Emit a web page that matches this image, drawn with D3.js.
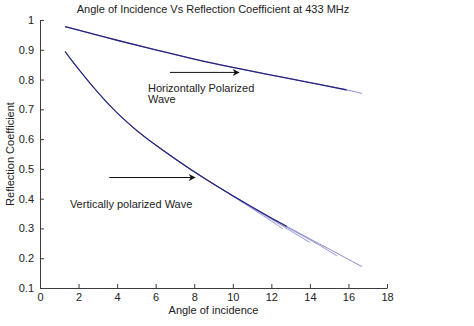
<!DOCTYPE html>
<html>
<head>
<meta charset="utf-8">
<script src="https://cdn.jsdelivr.net/npm/d3@7"></script>
<style>
  html, body { margin: 0; padding: 0; background: #fff; }
  svg { display: block; font-family: "Liberation Sans", Arial, sans-serif; }
</style>
</head>
<body>
<svg id="chart" width="474" height="326"></svg>
<script>
// ---- data ----
const hAngles   = [1.3, 2, 4, 6, 8, 10, 12, 14, 16, 16.7];
const hCoef     = [0.978, 0.966, 0.932, 0.900, 0.869, 0.841, 0.815, 0.790, 0.764, 0.753];
const hDarkEnd  = 15.9;

const vAngles   = [1.3, 2, 3, 4, 5, 6, 7, 8, 9, 10, 11, 12, 13, 14, 15, 16, 16.7];
const vCoef     = [0.894, 0.835, 0.757, 0.688, 0.630, 0.580, 0.534, 0.490, 0.449, 0.410, 0.372, 0.335, 0.300, 0.265, 0.231, 0.196, 0.172];
const vDarkEnd  = 12.8;

// extra runs that split off the vertically polarized curve
const vBranchA_x = [6, 8, 10, 12, 14, 15.4];
const vBranchA_y = [0.580, 0.490, 0.410, 0.333, 0.262, 0.208];
const vBranchB_x = [6, 8, 10, 12, 14];
const vBranchB_y = [0.580, 0.491, 0.409, 0.331, 0.253];
const vBranchC_x = [6, 8, 10, 12, 12.6];
const vBranchC_y = [0.580, 0.491, 0.408, 0.325, 0.298];

const xTicks = d3.range(0, 19, 2);
const yTicks = [0.1, 0.2, 0.3, 0.4, 0.5, 0.6, 0.7, 0.8, 0.9, 1];

const notes = [
  { lines: ["Horizontally Polarized", "Wave"], x: 5.6, y: 0.758, from: [6.74, 0.824], to: [10.32, 0.824] },
  { lines: ["Vertically polarized Wave"], x: 1.55, y: 0.368, from: [3.59, 0.471], to: [8.04, 0.471] }
];

// ---- layout ----
const svg = d3.select("#chart");
const margin = { top: 20, right: 87, bottom: 38, left: 40 };
const W = +svg.attr("width"), H = +svg.attr("height");
const width = W - margin.left - margin.right;
const height = H - margin.top - margin.bottom;
const g = svg.append("g").attr("transform", `translate(${margin.left},${margin.top})`);

const x = d3.scaleLinear().domain([0, 18]).range([0, width]);
const y = d3.scaleLinear().domain([0.1, 1]).range([height, 0]);

// axes, ticks pointing inwards like matlab
const axisColor = "#3c3c3c";
const xAxis = g.append("g")
  .attr("transform", `translate(0,${height})`)
  .call(d3.axisBottom(x).tickValues(xTicks).tickSizeInner(-4).tickSizeOuter(0).tickPadding(6).tickFormat(d3.format("d")));
const yAxis = g.append("g")
  .call(d3.axisLeft(y).tickValues(yTicks).tickSizeInner(-4).tickSizeOuter(0).tickPadding(6).tickFormat(d => d === 1 ? "1" : d3.format(".1f")(d)));
[xAxis, yAxis].forEach(a => {
  a.select(".domain").attr("stroke", axisColor);
  a.selectAll(".tick line").attr("stroke", axisColor);
  a.selectAll(".tick text").attr("fill", "#222").attr("font-size", "11px");
});
xAxis.selectAll(".tick text").attr("dy", "0.62em");

// ---- curves ----
const defs = svg.append("defs");
const clipTo = (id, xmax) => defs.append("clipPath").attr("id", id)
  .append("rect").attr("x", -5).attr("y", -5).attr("width", x(xmax) + 5).attr("height", height + 10);
clipTo("hdark", hDarkEnd);
clipTo("vdark", vDarkEnd);

const line = d3.line().x(d => x(d[0])).y(d => y(d[1])).curve(d3.curveNatural);
const pts = (xs, ys) => xs.map((v, i) => [v, ys[i]]);

const light = "#8a8ad2", dark = "#25257f";

const series = [
  { d: pts(hAngles, hCoef), c: light, w: 1 },
  { d: pts(vAngles, vCoef), c: light, w: 1 },
  { d: pts(vBranchA_x, vBranchA_y), c: light, w: 0.9 },
  { d: pts(vBranchB_x, vBranchB_y), c: light, w: 0.9 },
  { d: pts(vBranchC_x, vBranchC_y), c: light, w: 0.9 },
  { d: pts(hAngles, hCoef), c: dark, w: 1.3, clip: "hdark" },
  { d: pts(vAngles, vCoef), c: dark, w: 1.2, clip: "vdark" }
];

g.append("g").selectAll("path")
  .data(series)
  .join("path")
  .attr("fill", "none")
  .attr("stroke", d => d.c)
  .attr("stroke-width", d => d.w)
  .attr("clip-path", d => d.clip ? `url(#${d.clip})` : null)
  .attr("d", d => line(d.d));

// ---- annotations ----
defs.append("marker")
  .attr("id", "head")
  .attr("viewBox", "0 0 10 10")
  .attr("refX", 9).attr("refY", 5)
  .attr("markerWidth", 9).attr("markerHeight", 7)
  .attr("markerUnits", "userSpaceOnUse")
  .attr("orient", "auto")
  .append("path")
  .attr("d", "M0,0 L10,5 L0,10 L3,5 Z")
  .attr("fill", "#111");

notes.forEach(n => {
  g.append("line")
    .attr("x1", x(n.from[0])).attr("y1", y(n.from[1]))
    .attr("x2", x(n.to[0])).attr("y2", y(n.to[1]))
    .attr("stroke", "#111").attr("stroke-width", 1)
    .attr("marker-end", "url(#head)");
  const t = g.append("text")
    .attr("x", x(n.x)).attr("y", y(n.y))
    .attr("font-size", "11px").attr("fill", "#222");
  n.lines.forEach((s, i) => t.append("tspan").attr("x", x(n.x)).attr("dy", i ? "1.0em" : 0).text(s));
});

// ---- titles ----
svg.append("text")
  .attr("x", margin.left + width / 2 - 0.5).attr("y", 13)
  .attr("text-anchor", "middle").attr("font-size", "11px").attr("fill", "#222")
  .text("Angle of Incidence Vs Reflection Coefficient at 433 MHz");

svg.append("text")
  .attr("x", margin.left + width / 2).attr("y", 314)
  .attr("text-anchor", "middle").attr("font-size", "11px").attr("fill", "#222")
  .text("Angle of incidence");

svg.append("text")
  .attr("transform", `translate(14,${margin.top + height / 2}) rotate(-90)`)
  .attr("text-anchor", "middle").attr("font-size", "11px").attr("fill", "#222")
  .text("Reflection Coefficient");
</script>
</body>
</html>
